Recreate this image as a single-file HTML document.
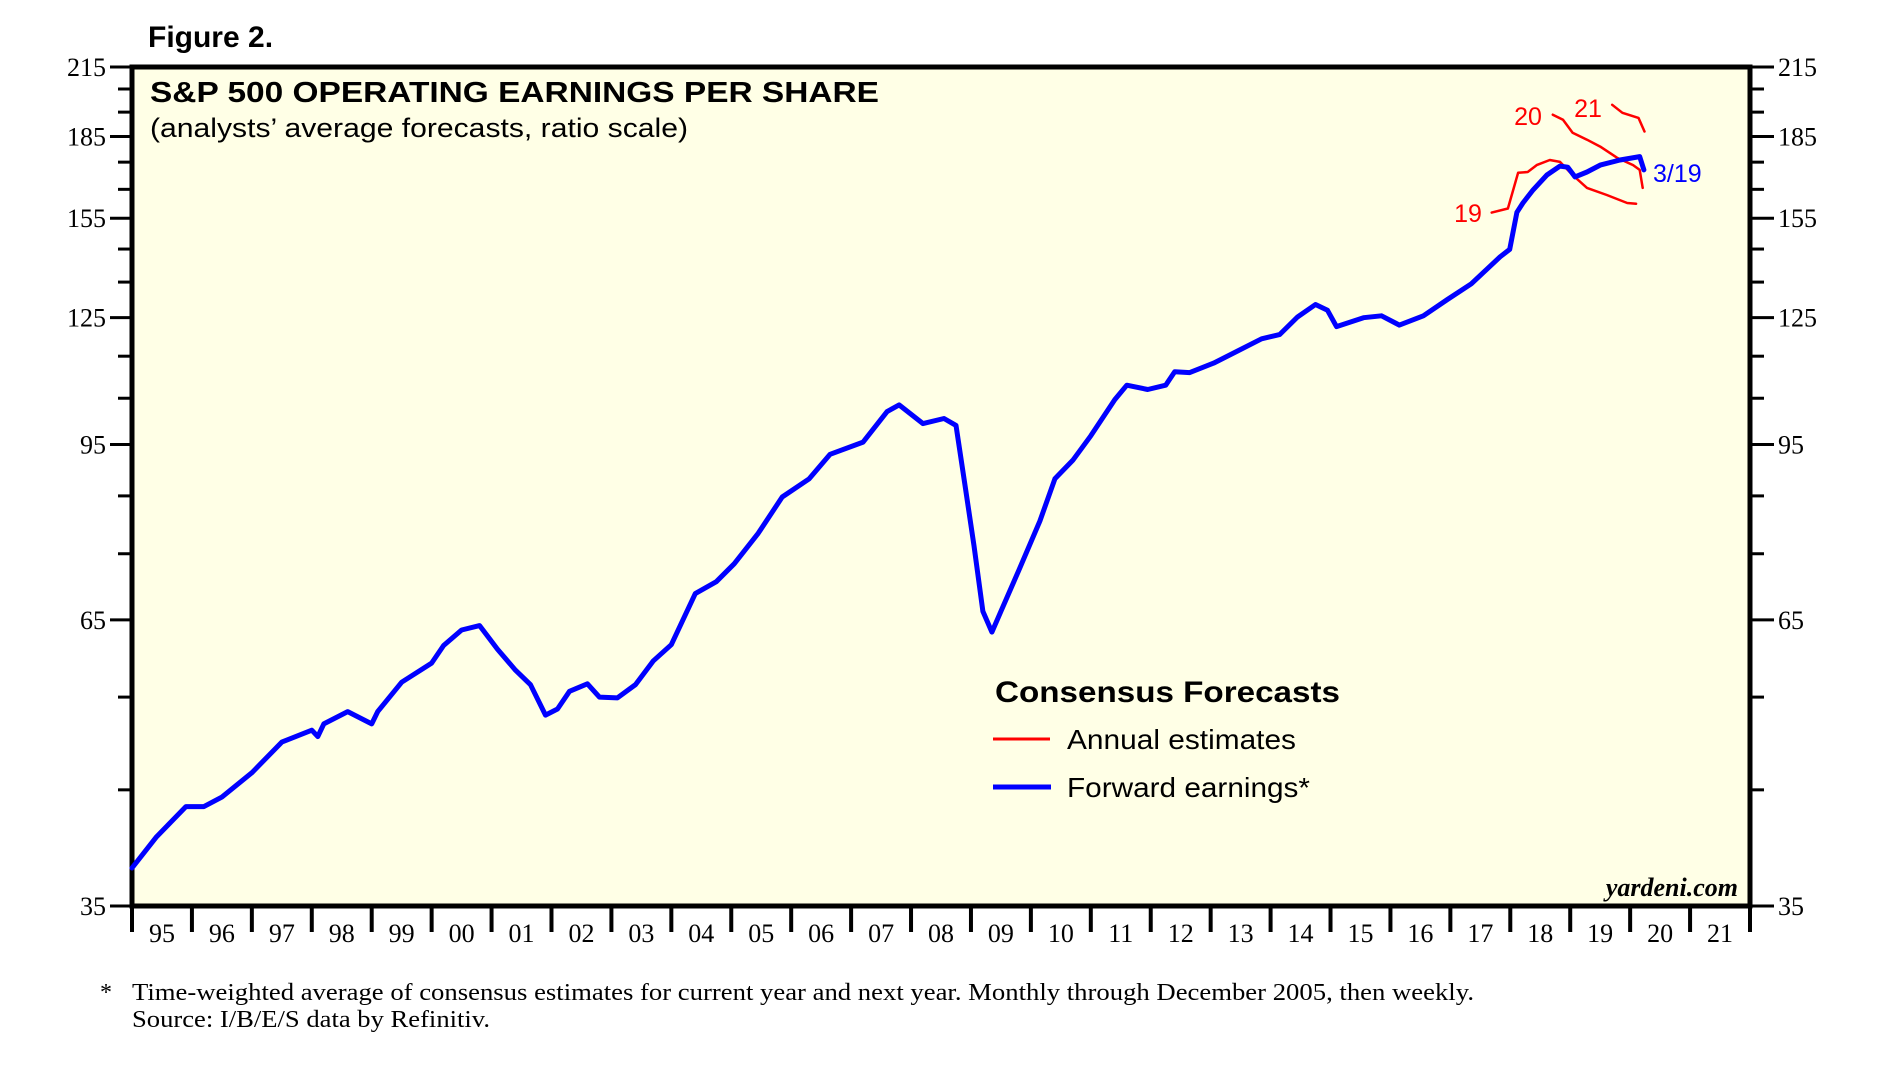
<!DOCTYPE html>
<html><head><meta charset="utf-8"><style>
html,body{margin:0;padding:0;background:#fff;}
svg{display:block;}
</style></head><body>
<svg id="chart" width="1901" height="1085" viewBox="0 0 1901 1085" xmlns="http://www.w3.org/2000/svg">
<rect x="0" y="0" width="1901" height="1085" fill="#fff"/>
<text x="148" y="47" font-family="Liberation Sans, sans-serif" font-weight="bold" font-size="30">Figure 2.</text>
<rect x="132" y="67" width="1618" height="839" fill="#FFFFE6"/>
<text x="150" y="102" font-family="Liberation Sans, sans-serif" font-weight="bold" font-size="29" textLength="729" lengthAdjust="spacingAndGlyphs">S&amp;P 500 OPERATING EARNINGS PER SHARE</text>
<text x="150" y="137" font-family="Liberation Sans, sans-serif" font-size="27" textLength="538" lengthAdjust="spacingAndGlyphs">(analysts’ average forecasts, ratio scale)</text>
<g id="axes"></g>
<g id="series"></g>
<text x="1468" y="222" font-family="Liberation Sans, sans-serif" font-size="25" fill="#f00" text-anchor="middle">19</text>
<text x="1528" y="125" font-family="Liberation Sans, sans-serif" font-size="25" fill="#f00" text-anchor="middle">20</text>
<text x="1588" y="117" font-family="Liberation Sans, sans-serif" font-size="25" fill="#f00" text-anchor="middle">21</text>
<text x="1653" y="182" font-family="Liberation Sans, sans-serif" font-size="25" fill="#00f">3/19</text>
<text x="995" y="702" font-family="Liberation Sans, sans-serif" font-weight="bold" font-size="30" textLength="345" lengthAdjust="spacingAndGlyphs">Consensus Forecasts</text>
<line x1="993" y1="739" x2="1050" y2="739" stroke="#f00" stroke-width="3"/>
<text x="1067" y="749" font-family="Liberation Sans, sans-serif" font-size="28" textLength="229" lengthAdjust="spacingAndGlyphs">Annual estimates</text>
<line x1="993" y1="787" x2="1051" y2="787" stroke="#00f" stroke-width="5"/>
<text x="1067" y="797" font-family="Liberation Sans, sans-serif" font-size="28" textLength="243" lengthAdjust="spacingAndGlyphs">Forward earnings*</text>
<text x="1738" y="896" font-family="Liberation Serif, serif" font-style="italic" font-weight="bold" font-size="26" text-anchor="end">yardeni.com</text>
<text x="100" y="1000" font-family="Liberation Serif, serif" font-size="24">*</text>
<text x="132" y="1000" font-family="Liberation Serif, serif" font-size="24" textLength="1342" lengthAdjust="spacingAndGlyphs">Time-weighted average of consensus estimates for current year and next year. Monthly through December 2005, then weekly.</text>
<text x="132" y="1027" font-family="Liberation Serif, serif" font-size="24" textLength="358" lengthAdjust="spacingAndGlyphs">Source: I/B/E/S data by Refinitiv.</text>
</svg>
<script>
const yTicks = [215,185,155,125,95,65,35];
const xLabels = ["95","96","97","98","99","00","01","02","03","04","05","06","07","08","09","10","11","12","13","14","15","16","17","18","19","20","21"];
const fwdYears = [1995.0,1995.4,1995.9,1996.2,1996.5,1997.0,1997.5,1998.0,1998.1,1998.2,1998.6,1999.0,1999.1,1999.5,2000.0,2000.2,2000.5,2000.8,2001.1,2001.4,2001.65,2001.9,2002.1,2002.3,2002.6,2002.8,2003.1,2003.4,2003.7,2004.0,2004.4,2004.75,2005.05,2005.45,2005.85,2006.3,2006.65,2007.2,2007.6,2007.8,2008.2,2008.55,2008.75,2008.9,2009.05,2009.2,2009.35,2009.5,2009.8,2010.15,2010.4,2010.7,2011.0,2011.4,2011.6,2011.95,2012.25,2012.4,2012.65,2013.05,2013.45,2013.85,2014.15,2014.45,2014.75,2014.95,2015.1,2015.55,2015.85,2016.15,2016.55,2016.95,2017.35,2017.83,2017.99,2018.11,2018.21,2018.38,2018.61,2018.83,2018.96,2019.08,2019.28,2019.5,2019.83,2020.16,2020.23];
const fwdValues = [38.0,40.6,43.4,43.4,44.3,46.7,49.9,51.2,50.5,51.9,53.3,51.9,53.3,56.8,59.2,61.5,63.6,64.2,61.0,58.3,56.5,52.9,53.6,55.7,56.6,55.0,54.9,56.5,59.5,61.6,68.8,70.6,73.4,78.4,84.8,88.2,93.0,95.5,102,103.5,99.4,100.5,99,87,76.3,66.2,63.3,66.2,72.4,80.5,88.2,91.8,96.8,104.7,108,107,108,111.2,111,113.3,116.3,119.4,120.5,125.2,128.6,127,122.6,125,125.5,123,125.5,130,134.5,142.6,144.9,157.0,160.2,164.8,170.2,173.5,173.1,169.5,171.3,173.9,175.8,177.1,172.1];
const est19Years = [2017.69,2017.96,2018.13,2018.29,2018.44,2018.66,2018.83,2019.04,2019.28,2019.61,2019.95,2020.1];
const est19Values = [156.9,158.3,171,171.3,173.9,175.8,175.1,170.2,165.5,163,160.2,159.9];
const est20Years = [2018.71,2018.88,2019.04,2019.28,2019.5,2019.78,2020.05,2020.16,2020.21];
const est20Values = [193.9,191.8,186.5,183.7,181,176.7,173.9,172.1,165.5];
const est21Years = [2019.7,2019.87,2020.14,2020.24];
const est21Values = [198.1,194.7,192.6,187];

const L=132,R=1750,T=67,B=906,Y0=1995,Y1=2022,VMAX=215,VMIN=35;
const xs = y => L + (y-Y0)/(Y1-Y0)*(R-L);
const ys = v => T + Math.log(VMAX/v)/Math.log(VMAX/VMIN)*(B-T);
const NS="http://www.w3.org/2000/svg";
function mk(tag, attrs, parent){const e=document.createElementNS(NS,tag);for(const k in attrs)e.setAttribute(k,attrs[k]);parent.appendChild(e);return e;}
const axes=document.getElementById('axes');
const series=document.getElementById('series');

// minor ticks every 10
for(let v=VMIN; v<=VMAX; v+=10){
  const major = yTicks.includes(v);
  const y=ys(v);
  const lt=mk('line',{x1:major?110:118,y1:y,x2:132,y2:y,stroke:'#000','stroke-width':3},axes);
  
  
  const rt=mk('line',{x1:1750,y1:y,x2:major?1774:1764,y2:y,stroke:'#000','stroke-width':3},axes);
  
  
}
yTicks.forEach(v=>{
  const y=ys(v);
  const a=mk('text',{x:106,y:y+9,'text-anchor':'end','font-family':'Liberation Serif, serif','font-size':26},axes);
  a.textContent=v;
  
  
  const b=mk('text',{x:1778,y:y+9,'font-family':'Liberation Serif, serif','font-size':26},axes);
  b.textContent=v;
  
  
});
for(let i=0;i<=xLabels.length;i++){
  const x=xs(Y0+i);
  const t=mk('line',{x1:x,y1:906,x2:x,y2:932,stroke:'#000','stroke-width':4},axes);
  
  
}
xLabels.forEach((s,i)=>{
  const t=mk('text',{x:xs(Y0+i+0.5),y:942,'text-anchor':'middle','font-family':'Liberation Serif, serif','font-size':26},axes);
  t.textContent=s;
  
  
});
const frame=mk('rect',{x:132,y:67,width:1618,height:839,fill:'none',stroke:'#000','stroke-width':5},axes);



function path(yrs,vals,color,w,name){
  const d=yrs.map((y,i)=>(i?'L':'M')+xs(y).toFixed(1)+','+ys(vals[i]).toFixed(1)).join(' ');
  const p=mk('path',{d:d,fill:'none',stroke:color,'stroke-width':w,'stroke-linejoin':'round','stroke-linecap':'round'},series);
  
  
}
path(est19Years,est19Values,'#f00',2.5,'annual-estimate-2019-line');
path(est20Years,est20Values,'#f00',2.5,'annual-estimate-2020-line');
path(est21Years,est21Values,'#f00',2.5,'annual-estimate-2021-line');
path(fwdYears,fwdValues,'#00f',5,'forward-earnings-line');
</script>
</body></html>
